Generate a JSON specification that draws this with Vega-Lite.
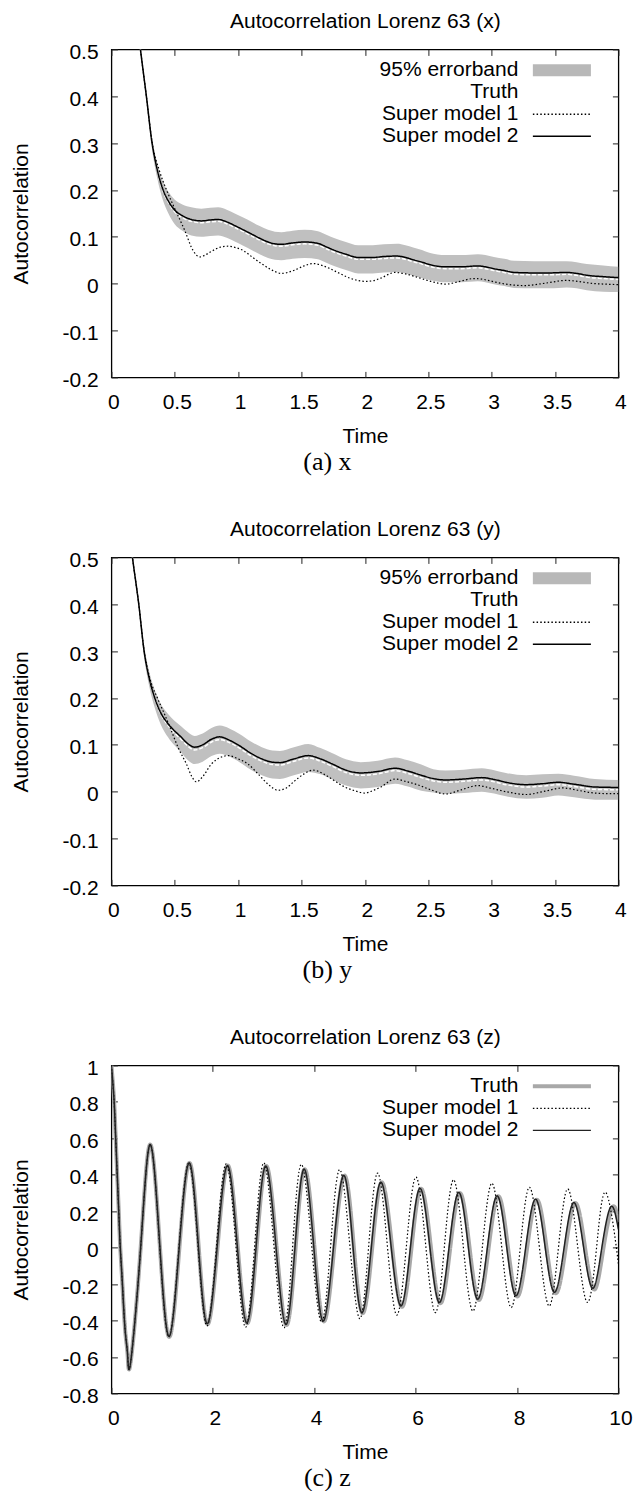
{
  "$schema": "https://vega.github.io/schema/vega-lite/v6.json",
  "padding": {"left": 9.4, "top": 9.4, "right": 5, "bottom": 0},
  "background": "white",
  "bounds": "flush",
  "spacing": 180,
  "config": {
    "view": {"stroke": "#000", "strokeWidth": 1.3},
    "font": "Liberation Sans",
    "axis": {"labelFont": "Liberation Sans", "labelFontSize": 21, "labelColor": "#000", "titleFont": "Liberation Sans", "titleFontSize": 21, "titleFontWeight": "normal", "titleColor": "#000", "tickSize": -6, "tickColor": "#222", "tickWidth": 1, "domain": false, "grid": false, "labelFlush": false, "labelOverlap": false, "labelBound": false},
    "legend": {"orient": "none", "legendX": 440, "legendY": 10.4, "labelAlign": "right", "labelOffset": -54, "labelFont": "Liberation Sans", "labelFontSize": 21, "labelColor": "#000", "labelLimit": 0, "symbolType": "M-6.45,0H6.45", "symbolSize": 81, "rowPadding": 0, "padding": 0}
  },
  "resolve": {"scale": {"color": "independent", "strokeDash": "independent"}, "legend": {"color": "independent", "strokeDash": "independent"}},
  "datasets": {
    "p1band": [
      {"t":0,"lo":1.0,"hi":1.0},{"t":0.1,"lo":0.797,"hi":0.803},{"t":0.18,"lo":0.605,"hi":0.615},{"t":0.229,"lo":0.493,"hi":0.507},{"t":0.276,"lo":0.389,"hi":0.409},{"t":0.321,"lo":0.286,"hi":0.312},{"t":0.36,"lo":0.227,"hi":0.259},{"t":0.408,"lo":0.177,"hi":0.217},{"t":0.45,"lo":0.15,"hi":0.196},{"t":0.5,"lo":0.127,"hi":0.179},{"t":0.56,"lo":0.113,"hi":0.169},{"t":0.631,"lo":0.103,"hi":0.163},{"t":0.71,"lo":0.1,"hi":0.16},{"t":0.78,"lo":0.102,"hi":0.162},{"t":0.842,"lo":0.103,"hi":0.163},{"t":0.91,"lo":0.098,"hi":0.158},{"t":0.973,"lo":0.09,"hi":0.15},{"t":1.04,"lo":0.081,"hi":0.141},{"t":1.105,"lo":0.072,"hi":0.132},{"t":1.17,"lo":0.063,"hi":0.123},{"t":1.236,"lo":0.055,"hi":0.115},{"t":1.29,"lo":0.051,"hi":0.111},{"t":1.341,"lo":0.05,"hi":0.11},{"t":1.43,"lo":0.053,"hi":0.113},{"t":1.525,"lo":0.055,"hi":0.115},{"t":1.63,"lo":0.052,"hi":0.112},{"t":1.7,"lo":0.044,"hi":0.104},{"t":1.762,"lo":0.037,"hi":0.097},{"t":1.85,"lo":0.029,"hi":0.089},{"t":1.946,"lo":0.022,"hi":0.082},{"t":2.062,"lo":0.022,"hi":0.082},{"t":2.15,"lo":0.024,"hi":0.084},{"t":2.253,"lo":0.025,"hi":0.085},{"t":2.32,"lo":0.022,"hi":0.082},{"t":2.381,"lo":0.017,"hi":0.077},{"t":2.45,"lo":0.012,"hi":0.072},{"t":2.508,"lo":0.008,"hi":0.066},{"t":2.636,"lo":0.003,"hi":0.061},{"t":2.763,"lo":0.003,"hi":0.061},{"t":2.891,"lo":0.005,"hi":0.063},{"t":2.95,"lo":0.003,"hi":0.061},{"t":3.018,"lo":-0.001,"hi":0.057},{"t":3.1,"lo":-0.005,"hi":0.053},{"t":3.177,"lo":-0.009,"hi":0.049},{"t":3.337,"lo":-0.01,"hi":0.048},{"t":3.46,"lo":-0.01,"hi":0.048},{"t":3.591,"lo":-0.008,"hi":0.048},{"t":3.67,"lo":-0.01,"hi":0.046},{"t":3.751,"lo":-0.014,"hi":0.042},{"t":3.88,"lo":-0.017,"hi":0.039},{"t":4.0,"lo":-0.018,"hi":0.036}
    ],
    "p1lines": [
      {"series":"Truth","t":0,"v":1.0},{"series":"Truth","t":0.1,"v":0.8},{"series":"Truth","t":0.18,"v":0.61},{"series":"Truth","t":0.229,"v":0.5},{"series":"Truth","t":0.276,"v":0.399},{"series":"Truth","t":0.321,"v":0.299},{"series":"Truth","t":0.36,"v":0.243},{"series":"Truth","t":0.408,"v":0.197},{"series":"Truth","t":0.45,"v":0.173},{"series":"Truth","t":0.5,"v":0.153},{"series":"Truth","t":0.56,"v":0.141},{"series":"Truth","t":0.631,"v":0.133},{"series":"Truth","t":0.71,"v":0.13},{"series":"Truth","t":0.78,"v":0.132},{"series":"Truth","t":0.842,"v":0.133},{"series":"Truth","t":0.91,"v":0.128},{"series":"Truth","t":0.973,"v":0.12},{"series":"Truth","t":1.04,"v":0.111},{"series":"Truth","t":1.105,"v":0.102},{"series":"Truth","t":1.17,"v":0.093},{"series":"Truth","t":1.236,"v":0.085},{"series":"Truth","t":1.29,"v":0.081},{"series":"Truth","t":1.341,"v":0.08},{"series":"Truth","t":1.43,"v":0.083},{"series":"Truth","t":1.525,"v":0.085},{"series":"Truth","t":1.63,"v":0.082},{"series":"Truth","t":1.7,"v":0.074},{"series":"Truth","t":1.762,"v":0.067},{"series":"Truth","t":1.85,"v":0.059},{"series":"Truth","t":1.946,"v":0.052},{"series":"Truth","t":2.062,"v":0.052},{"series":"Truth","t":2.15,"v":0.054},{"series":"Truth","t":2.253,"v":0.055},{"series":"Truth","t":2.32,"v":0.052},{"series":"Truth","t":2.381,"v":0.047},{"series":"Truth","t":2.45,"v":0.042},{"series":"Truth","t":2.508,"v":0.037},{"series":"Truth","t":2.636,"v":0.032},{"series":"Truth","t":2.763,"v":0.032},{"series":"Truth","t":2.891,"v":0.034},{"series":"Truth","t":2.95,"v":0.032},{"series":"Truth","t":3.018,"v":0.028},{"series":"Truth","t":3.1,"v":0.024},{"series":"Truth","t":3.177,"v":0.02},{"series":"Truth","t":3.337,"v":0.019},{"series":"Truth","t":3.46,"v":0.019},{"series":"Truth","t":3.591,"v":0.02},{"series":"Truth","t":3.67,"v":0.018},{"series":"Truth","t":3.751,"v":0.014},{"series":"Truth","t":3.88,"v":0.011},{"series":"Truth","t":4.0,"v":0.009},
      {"series":"Super model 1","t":0,"v":1.0},{"series":"Super model 1","t":0.1,"v":0.8},{"series":"Super model 1","t":0.18,"v":0.61},{"series":"Super model 1","t":0.229,"v":0.5},{"series":"Super model 1","t":0.276,"v":0.4},{"series":"Super model 1","t":0.321,"v":0.302},{"series":"Super model 1","t":0.38,"v":0.24},{"series":"Super model 1","t":0.435,"v":0.2},{"series":"Super model 1","t":0.5,"v":0.16},{"series":"Super model 1","t":0.578,"v":0.114},{"series":"Super model 1","t":0.644,"v":0.071},{"series":"Super model 1","t":0.697,"v":0.057},{"series":"Super model 1","t":0.745,"v":0.062},{"series":"Super model 1","t":0.789,"v":0.069},{"series":"Super model 1","t":0.86,"v":0.078},{"series":"Super model 1","t":0.921,"v":0.08},{"series":"Super model 1","t":0.98,"v":0.077},{"series":"Super model 1","t":1.039,"v":0.071},{"series":"Super model 1","t":1.11,"v":0.057},{"series":"Super model 1","t":1.183,"v":0.043},{"series":"Super model 1","t":1.26,"v":0.03},{"series":"Super model 1","t":1.341,"v":0.022},{"series":"Super model 1","t":1.446,"v":0.029},{"series":"Super model 1","t":1.52,"v":0.038},{"series":"Super model 1","t":1.591,"v":0.043},{"series":"Super model 1","t":1.65,"v":0.04},{"series":"Super model 1","t":1.709,"v":0.034},{"series":"Super model 1","t":1.8,"v":0.022},{"series":"Super model 1","t":1.88,"v":0.012},{"series":"Super model 1","t":1.946,"v":0.007},{"series":"Super model 1","t":2.0,"v":0.005},{"series":"Super model 1","t":2.06,"v":0.006},{"series":"Super model 1","t":2.126,"v":0.012},{"series":"Super model 1","t":2.237,"v":0.024},{"series":"Super model 1","t":2.32,"v":0.021},{"series":"Super model 1","t":2.41,"v":0.014},{"series":"Super model 1","t":2.52,"v":0.005},{"series":"Super model 1","t":2.636,"v":-0.001},{"series":"Super model 1","t":2.75,"v":0.005},{"series":"Super model 1","t":2.86,"v":0.011},{"series":"Super model 1","t":2.94,"v":0.009},{"series":"Super model 1","t":3.02,"v":0.004},{"series":"Super model 1","t":3.14,"v":-0.002},{"series":"Super model 1","t":3.26,"v":-0.004},{"series":"Super model 1","t":3.42,"v":0.001},{"series":"Super model 1","t":3.59,"v":0.007},{"series":"Super model 1","t":3.68,"v":0.005},{"series":"Super model 1","t":3.78,"v":0.001},{"series":"Super model 1","t":3.9,"v":-0.001},{"series":"Super model 1","t":4.0,"v":-0.002},
      {"series":"Super model 2","t":0,"v":1.0},{"series":"Super model 2","t":0.1,"v":0.8},{"series":"Super model 2","t":0.18,"v":0.61},{"series":"Super model 2","t":0.229,"v":0.5},{"series":"Super model 2","t":0.276,"v":0.4},{"series":"Super model 2","t":0.321,"v":0.3},{"series":"Super model 2","t":0.36,"v":0.245},{"series":"Super model 2","t":0.408,"v":0.2},{"series":"Super model 2","t":0.45,"v":0.176},{"series":"Super model 2","t":0.5,"v":0.157},{"series":"Super model 2","t":0.56,"v":0.145},{"series":"Super model 2","t":0.631,"v":0.137},{"series":"Super model 2","t":0.71,"v":0.134},{"series":"Super model 2","t":0.78,"v":0.136},{"series":"Super model 2","t":0.842,"v":0.137},{"series":"Super model 2","t":0.91,"v":0.132},{"series":"Super model 2","t":0.973,"v":0.124},{"series":"Super model 2","t":1.04,"v":0.115},{"series":"Super model 2","t":1.105,"v":0.106},{"series":"Super model 2","t":1.17,"v":0.097},{"series":"Super model 2","t":1.236,"v":0.089},{"series":"Super model 2","t":1.29,"v":0.085},{"series":"Super model 2","t":1.341,"v":0.084},{"series":"Super model 2","t":1.43,"v":0.087},{"series":"Super model 2","t":1.525,"v":0.089},{"series":"Super model 2","t":1.63,"v":0.086},{"series":"Super model 2","t":1.7,"v":0.078},{"series":"Super model 2","t":1.762,"v":0.071},{"series":"Super model 2","t":1.85,"v":0.063},{"series":"Super model 2","t":1.946,"v":0.056},{"series":"Super model 2","t":2.062,"v":0.056},{"series":"Super model 2","t":2.15,"v":0.058},{"series":"Super model 2","t":2.253,"v":0.059},{"series":"Super model 2","t":2.32,"v":0.056},{"series":"Super model 2","t":2.381,"v":0.051},{"series":"Super model 2","t":2.45,"v":0.046},{"series":"Super model 2","t":2.508,"v":0.041},{"series":"Super model 2","t":2.636,"v":0.036},{"series":"Super model 2","t":2.763,"v":0.036},{"series":"Super model 2","t":2.891,"v":0.038},{"series":"Super model 2","t":2.95,"v":0.036},{"series":"Super model 2","t":3.018,"v":0.032},{"series":"Super model 2","t":3.1,"v":0.028},{"series":"Super model 2","t":3.177,"v":0.024},{"series":"Super model 2","t":3.337,"v":0.023},{"series":"Super model 2","t":3.46,"v":0.023},{"series":"Super model 2","t":3.591,"v":0.024},{"series":"Super model 2","t":3.67,"v":0.022},{"series":"Super model 2","t":3.751,"v":0.018},{"series":"Super model 2","t":3.88,"v":0.015},{"series":"Super model 2","t":4.0,"v":0.013}
    ],
    "p2band": [
      {"t":0,"lo":1.0,"hi":1.0},{"t":0.08,"lo":0.717,"hi":0.723},{"t":0.13,"lo":0.575,"hi":0.585},{"t":0.166,"lo":0.493,"hi":0.507},{"t":0.216,"lo":0.39,"hi":0.41},{"t":0.258,"lo":0.287,"hi":0.313},{"t":0.3,"lo":0.223,"hi":0.255},{"t":0.342,"lo":0.179,"hi":0.217},{"t":0.39,"lo":0.143,"hi":0.187},{"t":0.447,"lo":0.116,"hi":0.166},{"t":0.552,"lo":0.083,"hi":0.139},{"t":0.6,"lo":0.068,"hi":0.128},{"t":0.657,"lo":0.059,"hi":0.119},{"t":0.72,"lo":0.064,"hi":0.124},{"t":0.79,"lo":0.076,"hi":0.136},{"t":0.855,"lo":0.081,"hi":0.141},{"t":0.93,"lo":0.075,"hi":0.135},{"t":1.011,"lo":0.063,"hi":0.123},{"t":1.1,"lo":0.047,"hi":0.107},{"t":1.187,"lo":0.035,"hi":0.095},{"t":1.27,"lo":0.028,"hi":0.088},{"t":1.33,"lo":0.027,"hi":0.087},{"t":1.44,"lo":0.035,"hi":0.095},{"t":1.553,"lo":0.042,"hi":0.102},{"t":1.65,"lo":0.037,"hi":0.093},{"t":1.744,"lo":0.026,"hi":0.082},{"t":1.85,"lo":0.013,"hi":0.069},{"t":1.967,"lo":0.007,"hi":0.063},{"t":2.1,"lo":0.01,"hi":0.066},{"t":2.238,"lo":0.017,"hi":0.073},{"t":2.34,"lo":0.011,"hi":0.067},{"t":2.445,"lo":0.002,"hi":0.058},{"t":2.54,"lo":-0.002,"hi":0.048},{"t":2.636,"lo":-0.005,"hi":0.045},{"t":2.78,"lo":-0.003,"hi":0.047},{"t":2.922,"lo":0.0,"hi":0.05},{"t":3.02,"lo":-0.004,"hi":0.046},{"t":3.113,"lo":-0.01,"hi":0.04},{"t":3.273,"lo":-0.015,"hi":0.035},{"t":3.4,"lo":-0.013,"hi":0.037},{"t":3.527,"lo":-0.008,"hi":0.038},{"t":3.65,"lo":-0.012,"hi":0.034},{"t":3.815,"lo":-0.017,"hi":0.027},{"t":4.0,"lo":-0.017,"hi":0.025}
    ],
    "p2lines": [
      {"series":"Truth","t":0,"v":1.0},{"series":"Truth","t":0.08,"v":0.72},{"series":"Truth","t":0.13,"v":0.58},{"series":"Truth","t":0.166,"v":0.5},{"series":"Truth","t":0.216,"v":0.4},{"series":"Truth","t":0.258,"v":0.3},{"series":"Truth","t":0.3,"v":0.239},{"series":"Truth","t":0.342,"v":0.198},{"series":"Truth","t":0.39,"v":0.165},{"series":"Truth","t":0.447,"v":0.141},{"series":"Truth","t":0.552,"v":0.111},{"series":"Truth","t":0.6,"v":0.098},{"series":"Truth","t":0.657,"v":0.089},{"series":"Truth","t":0.72,"v":0.094},{"series":"Truth","t":0.79,"v":0.106},{"series":"Truth","t":0.855,"v":0.111},{"series":"Truth","t":0.93,"v":0.105},{"series":"Truth","t":1.011,"v":0.093},{"series":"Truth","t":1.1,"v":0.077},{"series":"Truth","t":1.187,"v":0.065},{"series":"Truth","t":1.27,"v":0.058},{"series":"Truth","t":1.33,"v":0.057},{"series":"Truth","t":1.44,"v":0.065},{"series":"Truth","t":1.553,"v":0.072},{"series":"Truth","t":1.65,"v":0.065},{"series":"Truth","t":1.744,"v":0.054},{"series":"Truth","t":1.85,"v":0.041},{"series":"Truth","t":1.967,"v":0.035},{"series":"Truth","t":2.1,"v":0.038},{"series":"Truth","t":2.238,"v":0.045},{"series":"Truth","t":2.34,"v":0.039},{"series":"Truth","t":2.445,"v":0.03},{"series":"Truth","t":2.54,"v":0.023},{"series":"Truth","t":2.636,"v":0.02},{"series":"Truth","t":2.78,"v":0.022},{"series":"Truth","t":2.922,"v":0.025},{"series":"Truth","t":3.02,"v":0.021},{"series":"Truth","t":3.113,"v":0.015},{"series":"Truth","t":3.273,"v":0.01},{"series":"Truth","t":3.4,"v":0.012},{"series":"Truth","t":3.527,"v":0.015},{"series":"Truth","t":3.65,"v":0.011},{"series":"Truth","t":3.815,"v":0.005},{"series":"Truth","t":4.0,"v":0.004},
      {"series":"Super model 1","t":0,"v":1.0},{"series":"Super model 1","t":0.08,"v":0.72},{"series":"Super model 1","t":0.13,"v":0.58},{"series":"Super model 1","t":0.166,"v":0.5},{"series":"Super model 1","t":0.216,"v":0.4},{"series":"Super model 1","t":0.258,"v":0.302},{"series":"Super model 1","t":0.3,"v":0.245},{"series":"Super model 1","t":0.363,"v":0.2},{"series":"Super model 1","t":0.42,"v":0.165},{"series":"Super model 1","t":0.473,"v":0.13},{"series":"Super model 1","t":0.53,"v":0.092},{"series":"Super model 1","t":0.592,"v":0.059},{"series":"Super model 1","t":0.635,"v":0.032},{"series":"Super model 1","t":0.671,"v":0.021},{"series":"Super model 1","t":0.72,"v":0.032},{"series":"Super model 1","t":0.789,"v":0.059},{"series":"Super model 1","t":0.86,"v":0.073},{"series":"Super model 1","t":0.92,"v":0.077},{"series":"Super model 1","t":1.0,"v":0.07},{"series":"Super model 1","t":1.078,"v":0.059},{"series":"Super model 1","t":1.16,"v":0.037},{"series":"Super model 1","t":1.236,"v":0.016},{"series":"Super model 1","t":1.315,"v":0.003},{"series":"Super model 1","t":1.38,"v":0.008},{"series":"Super model 1","t":1.446,"v":0.023},{"series":"Super model 1","t":1.52,"v":0.038},{"series":"Super model 1","t":1.591,"v":0.046},{"series":"Super model 1","t":1.68,"v":0.037},{"series":"Super model 1","t":1.762,"v":0.023},{"series":"Super model 1","t":1.84,"v":0.01},{"series":"Super model 1","t":1.92,"v":0.002},{"series":"Super model 1","t":1.998,"v":-0.003},{"series":"Super model 1","t":2.06,"v":0.002},{"series":"Super model 1","t":2.126,"v":0.01},{"series":"Super model 1","t":2.238,"v":0.027},{"series":"Super model 1","t":2.32,"v":0.022},{"series":"Super model 1","t":2.413,"v":0.015},{"series":"Super model 1","t":2.52,"v":0.004},{"series":"Super model 1","t":2.636,"v":-0.005},{"series":"Super model 1","t":2.76,"v":0.004},{"series":"Super model 1","t":2.891,"v":0.013},{"series":"Super model 1","t":3.0,"v":0.007},{"series":"Super model 1","t":3.113,"v":0.0},{"series":"Super model 1","t":3.273,"v":-0.006},{"series":"Super model 1","t":3.42,"v":0.001},{"series":"Super model 1","t":3.56,"v":0.008},{"series":"Super model 1","t":3.68,"v":0.003},{"series":"Super model 1","t":3.782,"v":-0.002},{"series":"Super model 1","t":3.9,"v":-0.004},{"series":"Super model 1","t":4.0,"v":-0.004},
      {"series":"Super model 2","t":0,"v":1.0},{"series":"Super model 2","t":0.08,"v":0.72},{"series":"Super model 2","t":0.13,"v":0.58},{"series":"Super model 2","t":0.166,"v":0.5},{"series":"Super model 2","t":0.216,"v":0.4},{"series":"Super model 2","t":0.258,"v":0.3},{"series":"Super model 2","t":0.3,"v":0.24},{"series":"Super model 2","t":0.342,"v":0.2},{"series":"Super model 2","t":0.39,"v":0.168},{"series":"Super model 2","t":0.447,"v":0.145},{"series":"Super model 2","t":0.552,"v":0.116},{"series":"Super model 2","t":0.6,"v":0.103},{"series":"Super model 2","t":0.657,"v":0.095},{"series":"Super model 2","t":0.72,"v":0.1},{"series":"Super model 2","t":0.79,"v":0.112},{"series":"Super model 2","t":0.855,"v":0.117},{"series":"Super model 2","t":0.93,"v":0.11},{"series":"Super model 2","t":1.011,"v":0.098},{"series":"Super model 2","t":1.1,"v":0.082},{"series":"Super model 2","t":1.187,"v":0.07},{"series":"Super model 2","t":1.27,"v":0.063},{"series":"Super model 2","t":1.33,"v":0.062},{"series":"Super model 2","t":1.44,"v":0.07},{"series":"Super model 2","t":1.553,"v":0.077},{"series":"Super model 2","t":1.65,"v":0.07},{"series":"Super model 2","t":1.744,"v":0.059},{"series":"Super model 2","t":1.85,"v":0.046},{"series":"Super model 2","t":1.967,"v":0.04},{"series":"Super model 2","t":2.1,"v":0.043},{"series":"Super model 2","t":2.238,"v":0.05},{"series":"Super model 2","t":2.34,"v":0.044},{"series":"Super model 2","t":2.445,"v":0.035},{"series":"Super model 2","t":2.54,"v":0.028},{"series":"Super model 2","t":2.636,"v":0.025},{"series":"Super model 2","t":2.78,"v":0.027},{"series":"Super model 2","t":2.922,"v":0.03},{"series":"Super model 2","t":3.02,"v":0.026},{"series":"Super model 2","t":3.113,"v":0.02},{"series":"Super model 2","t":3.273,"v":0.015},{"series":"Super model 2","t":3.4,"v":0.017},{"series":"Super model 2","t":3.527,"v":0.02},{"series":"Super model 2","t":3.65,"v":0.016},{"series":"Super model 2","t":3.815,"v":0.01},{"series":"Super model 2","t":4.0,"v":0.009}
    ],
    "p3lines": [
      {"series":"Truth","t":0,"v":1.0},{"series":"Truth","t":0.05,"v":0.82},{"series":"Truth","t":0.085,"v":0.6},{"series":"Truth","t":0.145,"v":0.2},{"series":"Truth","t":0.175,"v":0.0},{"series":"Truth","t":0.217,"v":-0.2},{"series":"Truth","t":0.27,"v":-0.45},{"series":"Truth","t":0.32,"v":-0.59},{"series":"Truth","t":0.378,"v":-0.632},{"series":"Truth","t":0.569,"v":-0.034},{"series":"Truth","t":0.76,"v":0.565},{"series":"Truth","t":0.949,"v":0.038},{"series":"Truth","t":1.138,"v":-0.49},{"series":"Truth","t":1.338,"v":-0.012},{"series":"Truth","t":1.537,"v":0.465},{"series":"Truth","t":1.717,"v":0.022},{"series":"Truth","t":1.897,"v":-0.42},{"series":"Truth","t":2.097,"v":0.015},{"series":"Truth","t":2.296,"v":0.45},{"series":"Truth","t":2.488,"v":0.017},{"series":"Truth","t":2.68,"v":-0.415},{"series":"Truth","t":2.868,"v":0.016},{"series":"Truth","t":3.055,"v":0.448},{"series":"Truth","t":3.255,"v":0.012},{"series":"Truth","t":3.454,"v":-0.425},{"series":"Truth","t":3.634,"v":0.003},{"series":"Truth","t":3.813,"v":0.43},{"series":"Truth","t":4.002,"v":0.013},{"series":"Truth","t":4.19,"v":-0.405},{"series":"Truth","t":4.394,"v":-0.005},{"series":"Truth","t":4.597,"v":0.395},{"series":"Truth","t":4.777,"v":0.018},{"series":"Truth","t":4.956,"v":-0.36},{"series":"Truth","t":5.144,"v":-0.001},{"series":"Truth","t":5.332,"v":0.358},{"series":"Truth","t":5.531,"v":0.017},{"series":"Truth","t":5.73,"v":-0.325},{"series":"Truth","t":5.919,"v":-0.001},{"series":"Truth","t":6.107,"v":0.323},{"series":"Truth","t":6.299,"v":0.009},{"series":"Truth","t":6.49,"v":-0.305},{"series":"Truth","t":6.682,"v":-0.003},{"series":"Truth","t":6.873,"v":0.3},{"series":"Truth","t":7.061,"v":0.007},{"series":"Truth","t":7.248,"v":-0.287},{"series":"Truth","t":7.44,"v":-0.003},{"series":"Truth","t":7.632,"v":0.282},{"series":"Truth","t":7.819,"v":0.007},{"series":"Truth","t":8.006,"v":-0.268},{"series":"Truth","t":8.199,"v":-0.003},{"series":"Truth","t":8.391,"v":0.263},{"series":"Truth","t":8.579,"v":0.007},{"series":"Truth","t":8.767,"v":-0.25},{"series":"Truth","t":8.959,"v":-0.003},{"series":"Truth","t":9.15,"v":0.245},{"series":"Truth","t":9.338,"v":0.008},{"series":"Truth","t":9.525,"v":-0.23},{"series":"Truth","t":9.704,"v":-0.004},{"series":"Truth","t":9.883,"v":0.222},{"series":"Truth","t":10.0,"v":0.14},
      {"series":"Super model 1","t":0,"v":1.0},{"series":"Super model 1","t":0.05,"v":0.82},{"series":"Super model 1","t":0.085,"v":0.6},{"series":"Super model 1","t":0.145,"v":0.2},{"series":"Super model 1","t":0.175,"v":0.0},{"series":"Super model 1","t":0.217,"v":-0.2},{"series":"Super model 1","t":0.27,"v":-0.45},{"series":"Super model 1","t":0.32,"v":-0.59},{"series":"Super model 1","t":0.378,"v":-0.632},{"series":"Super model 1","t":0.569,"v":-0.034},{"series":"Super model 1","t":0.76,"v":0.565},{"series":"Super model 1","t":0.945,"v":0.038},{"series":"Super model 1","t":1.13,"v":-0.49},{"series":"Super model 1","t":1.328,"v":-0.013},{"series":"Super model 1","t":1.525,"v":0.465},{"series":"Super model 1","t":1.705,"v":0.018},{"series":"Super model 1","t":1.885,"v":-0.43},{"series":"Super model 1","t":2.075,"v":0.015},{"series":"Super model 1","t":2.265,"v":0.46},{"series":"Super model 1","t":2.456,"v":0.012},{"series":"Super model 1","t":2.647,"v":-0.437},{"series":"Super model 1","t":2.827,"v":0.014},{"series":"Super model 1","t":3.006,"v":0.465},{"series":"Super model 1","t":3.205,"v":0.013},{"series":"Super model 1","t":3.404,"v":-0.44},{"series":"Super model 1","t":3.575,"v":0.009},{"series":"Super model 1","t":3.746,"v":0.457},{"series":"Super model 1","t":3.946,"v":0.024},{"series":"Super model 1","t":4.145,"v":-0.409},{"series":"Super model 1","t":4.324,"v":0.01},{"series":"Super model 1","t":4.502,"v":0.428},{"series":"Super model 1","t":4.701,"v":0.019},{"series":"Super model 1","t":4.9,"v":-0.39},{"series":"Super model 1","t":5.075,"v":0.01},{"series":"Super model 1","t":5.25,"v":0.409},{"series":"Super model 1","t":5.44,"v":0.02},{"series":"Super model 1","t":5.63,"v":-0.37},{"series":"Super model 1","t":5.819,"v":0.009},{"series":"Super model 1","t":6.007,"v":0.387},{"series":"Super model 1","t":6.199,"v":0.015},{"series":"Super model 1","t":6.39,"v":-0.357},{"series":"Super model 1","t":6.569,"v":0.008},{"series":"Super model 1","t":6.748,"v":0.372},{"series":"Super model 1","t":6.939,"v":0.012},{"series":"Super model 1","t":7.13,"v":-0.348},{"series":"Super model 1","t":7.317,"v":0.003},{"series":"Super model 1","t":7.504,"v":0.353},{"series":"Super model 1","t":7.695,"v":0.012},{"series":"Super model 1","t":7.885,"v":-0.329},{"series":"Super model 1","t":8.065,"v":0.001},{"series":"Super model 1","t":8.245,"v":0.331},{"series":"Super model 1","t":8.44,"v":0.006},{"series":"Super model 1","t":8.635,"v":-0.32},{"series":"Super model 1","t":8.818,"v":0.001},{"series":"Super model 1","t":9.0,"v":0.322},{"series":"Super model 1","t":9.195,"v":0.011},{"series":"Super model 1","t":9.39,"v":-0.301},{"series":"Super model 1","t":9.57,"v":0.001},{"series":"Super model 1","t":9.749,"v":0.303},{"series":"Super model 1","t":9.96,"v":0.0},{"series":"Super model 1","t":10.0,"v":-0.097},
      {"series":"Super model 2","t":0,"v":1.0},{"series":"Super model 2","t":0.05,"v":0.82},{"series":"Super model 2","t":0.085,"v":0.6},{"series":"Super model 2","t":0.145,"v":0.2},{"series":"Super model 2","t":0.175,"v":0.0},{"series":"Super model 2","t":0.217,"v":-0.2},{"series":"Super model 2","t":0.27,"v":-0.45},{"series":"Super model 2","t":0.32,"v":-0.59},{"series":"Super model 2","t":0.378,"v":-0.632},{"series":"Super model 2","t":0.569,"v":-0.034},{"series":"Super model 2","t":0.76,"v":0.565},{"series":"Super model 2","t":0.948,"v":0.039},{"series":"Super model 2","t":1.135,"v":-0.487},{"series":"Super model 2","t":1.334,"v":-0.011},{"series":"Super model 2","t":1.533,"v":0.465},{"series":"Super model 2","t":1.712,"v":0.024},{"series":"Super model 2","t":1.891,"v":-0.418},{"series":"Super model 2","t":2.09,"v":0.016},{"series":"Super model 2","t":2.289,"v":0.45},{"series":"Super model 2","t":2.48,"v":0.019},{"series":"Super model 2","t":2.671,"v":-0.413},{"series":"Super model 2","t":2.858,"v":0.018},{"series":"Super model 2","t":3.045,"v":0.448},{"series":"Super model 2","t":3.244,"v":0.013},{"series":"Super model 2","t":3.443,"v":-0.422},{"series":"Super model 2","t":3.622,"v":0.005},{"series":"Super model 2","t":3.801,"v":0.431},{"series":"Super model 2","t":3.989,"v":0.014},{"series":"Super model 2","t":4.176,"v":-0.403},{"series":"Super model 2","t":4.379,"v":-0.004},{"series":"Super model 2","t":4.582,"v":0.396},{"series":"Super model 2","t":4.761,"v":0.02},{"series":"Super model 2","t":4.94,"v":-0.357},{"series":"Super model 2","t":5.127,"v":0.001},{"series":"Super model 2","t":5.314,"v":0.359},{"series":"Super model 2","t":5.512,"v":0.02},{"series":"Super model 2","t":5.71,"v":-0.32},{"series":"Super model 2","t":5.899,"v":0.003},{"series":"Super model 2","t":6.087,"v":0.325},{"series":"Super model 2","t":6.278,"v":0.012},{"series":"Super model 2","t":6.469,"v":-0.301},{"series":"Super model 2","t":6.66,"v":0.001},{"series":"Super model 2","t":6.851,"v":0.303},{"series":"Super model 2","t":7.038,"v":0.01},{"series":"Super model 2","t":7.225,"v":-0.283},{"series":"Super model 2","t":7.416,"v":0.0},{"series":"Super model 2","t":7.607,"v":0.284},{"series":"Super model 2","t":7.794,"v":0.01},{"series":"Super model 2","t":7.98,"v":-0.264},{"series":"Super model 2","t":8.172,"v":0.001},{"series":"Super model 2","t":8.364,"v":0.266},{"series":"Super model 2","t":8.552,"v":0.01},{"series":"Super model 2","t":8.739,"v":-0.245},{"series":"Super model 2","t":8.93,"v":0.001},{"series":"Super model 2","t":9.121,"v":0.247},{"series":"Super model 2","t":9.308,"v":0.012},{"series":"Super model 2","t":9.495,"v":-0.223},{"series":"Super model 2","t":9.674,"v":0.001},{"series":"Super model 2","t":9.853,"v":0.225},{"series":"Super model 2","t":10.0,"v":0.1}
    ]
  },
  "vconcat": [
    {
      "width": 507, "height": 328,
      "title": {"text": "(a) x", "orient": "bottom", "anchor": "middle", "font": "Liberation Serif", "fontSize": 26, "fontWeight": "normal", "color": "#000", "offset": 2.5, "dx": -37.5},
      "resolve": {"axis": {"x": "independent", "y": "independent"}},
      "layer": [
        {
          "data": {"name": "p1band"},
          "mark": {"type": "area", "clip": true, "color": "#c0c0c0", "interpolate": "monotone"},
          "encoding": {
            "x": {"field": "t", "type": "quantitative", "scale": {"domain": [0, 4], "nice": false, "zero": false}, "axis": {"orient": "bottom", "title": "Time", "values": [0, 0.5, 1, 1.5, 2, 2.5, 3, 3.5, 4], "format": ".1~f", "labelPadding": 20.4, "titlePadding": 12.8, "labelOffset": 2}},
            "y": {"field": "lo", "type": "quantitative", "scale": {"domain": [-0.2, 0.5], "nice": false, "zero": false}, "axis": {"orient": "left", "title": "Autocorrelation", "values": [-0.2, -0.1, 0, 0.1, 0.2, 0.3, 0.4, 0.5], "format": ".1~f", "labelExpr": "replace(datum.label, '\u2212', '-')", "labelPadding": 19.3, "titlePadding": 30, "labelOffset": 3}},
            "y2": {"field": "hi"}
          }
        },
        {
          "data": {"name": "p1lines"},
          "transform": [{"filter": "datum.series === 'Truth'"}],
          "mark": {"type": "line", "clip": true, "interpolate": "monotone", "strokeWidth": 1.5},
          "encoding": {
            "x": {"field": "t", "type": "quantitative", "scale": {"domain": [0, 4], "nice": false, "zero": false}, "axis": null},
            "y": {"field": "v", "type": "quantitative", "scale": {"domain": [-0.2, 0.5], "nice": false, "zero": false}, "axis": null},
            "color": {"field": "series", "type": "nominal", "scale": {"domain": ["95% errorband", "Truth", "Super model 1", "Super model 2"], "range": ["#b8b8b8", "#ffffff", "#000000", "#000000"]}, "legend": {"title": null, "symbolType": {"expr": "datum.value === '95% errorband' ? 'M-6.45,-1.33H6.45V1.33H-6.45Z' : 'M-6.45,0H6.45'"}, "symbolFillColor": {"expr": "datum.value === '95% errorband' ? '#b8b8b8' : 'transparent'"}, "symbolStrokeWidth": {"expr": "datum.value === '95% errorband' ? 0 : 1.5"}}},
            "strokeDash": {"field": "series", "type": "nominal", "scale": {"domain": ["95% errorband", "Truth", "Super model 1", "Super model 2"], "range": [[1, 0], [4, 2], [1.5, 2.2], [1, 0]]}, "legend": {"title": null}}
          }
        },
        {
          "data": {"name": "p1lines"},
          "transform": [{"filter": "datum.series === 'Super model 1'"}],
          "mark": {"type": "line", "clip": true, "interpolate": "monotone", "strokeWidth": 1.2},
          "encoding": {
            "x": {"field": "t", "type": "quantitative", "scale": {"domain": [0, 4], "nice": false, "zero": false}, "axis": null},
            "y": {"field": "v", "type": "quantitative", "scale": {"domain": [-0.2, 0.5], "nice": false, "zero": false}, "axis": null},
            "color": {"field": "series", "type": "nominal", "scale": {"domain": ["95% errorband", "Truth", "Super model 1", "Super model 2"], "range": ["#b8b8b8", "#ffffff", "#000000", "#000000"]}, "legend": {"title": null, "symbolType": {"expr": "datum.value === '95% errorband' ? 'M-6.45,-1.33H6.45V1.33H-6.45Z' : 'M-6.45,0H6.45'"}, "symbolFillColor": {"expr": "datum.value === '95% errorband' ? '#b8b8b8' : 'transparent'"}, "symbolStrokeWidth": {"expr": "datum.value === '95% errorband' ? 0 : 1.5"}}},
            "strokeDash": {"field": "series", "type": "nominal", "scale": {"domain": ["95% errorband", "Truth", "Super model 1", "Super model 2"], "range": [[1, 0], [4, 2], [1.5, 2.2], [1, 0]]}, "legend": {"title": null}}
          }
        },
        {
          "data": {"name": "p1lines"},
          "transform": [{"filter": "datum.series === 'Super model 2'"}],
          "mark": {"type": "line", "clip": true, "interpolate": "monotone", "strokeWidth": 1.5},
          "encoding": {
            "x": {"field": "t", "type": "quantitative", "scale": {"domain": [0, 4], "nice": false, "zero": false}, "axis": {"orient": "top", "title": "Autocorrelation Lorenz 63 (x)", "values": [0, 0.5, 1, 1.5, 2, 2.5, 3, 3.5, 4], "labels": false, "titlePadding": 17}},
            "y": {"field": "v", "type": "quantitative", "scale": {"domain": [-0.2, 0.5], "nice": false, "zero": false}, "axis": {"orient": "right", "title": null, "values": [-0.2, -0.1, 0, 0.1, 0.2, 0.3, 0.4, 0.5], "labels": false}},
            "color": {"field": "series", "type": "nominal", "scale": {"domain": ["95% errorband", "Truth", "Super model 1", "Super model 2"], "range": ["#b8b8b8", "#ffffff", "#000000", "#000000"]}, "legend": {"title": null, "symbolType": {"expr": "datum.value === '95% errorband' ? 'M-6.45,-1.33H6.45V1.33H-6.45Z' : 'M-6.45,0H6.45'"}, "symbolFillColor": {"expr": "datum.value === '95% errorband' ? '#b8b8b8' : 'transparent'"}, "symbolStrokeWidth": {"expr": "datum.value === '95% errorband' ? 0 : 1.5"}}},
            "strokeDash": {"field": "series", "type": "nominal", "scale": {"domain": ["95% errorband", "Truth", "Super model 1", "Super model 2"], "range": [[1, 0], [4, 2], [1.5, 2.2], [1, 0]]}, "legend": {"title": null}}
          }
        }
      ]
    },
    {
      "width": 507, "height": 328,
      "title": {"text": "(b) y", "orient": "bottom", "anchor": "middle", "font": "Liberation Serif", "fontSize": 26, "fontWeight": "normal", "color": "#000", "offset": 2.5, "dx": -37.5},
      "resolve": {"axis": {"x": "independent", "y": "independent"}},
      "layer": [
        {
          "data": {"name": "p2band"},
          "mark": {"type": "area", "clip": true, "color": "#c0c0c0", "interpolate": "monotone"},
          "encoding": {
            "x": {"field": "t", "type": "quantitative", "scale": {"domain": [0, 4], "nice": false, "zero": false}, "axis": {"orient": "bottom", "title": "Time", "values": [0, 0.5, 1, 1.5, 2, 2.5, 3, 3.5, 4], "format": ".1~f", "labelPadding": 20.4, "titlePadding": 12.8, "labelOffset": 2}},
            "y": {"field": "lo", "type": "quantitative", "scale": {"domain": [-0.2, 0.5], "nice": false, "zero": false}, "axis": {"orient": "left", "title": "Autocorrelation", "values": [-0.2, -0.1, 0, 0.1, 0.2, 0.3, 0.4, 0.5], "format": ".1~f", "labelExpr": "replace(datum.label, '\u2212', '-')", "labelPadding": 19.3, "titlePadding": 30, "labelOffset": 3}},
            "y2": {"field": "hi"}
          }
        },
        {
          "data": {"name": "p2lines"},
          "transform": [{"filter": "datum.series === 'Truth'"}],
          "mark": {"type": "line", "clip": true, "interpolate": "monotone", "strokeWidth": 1.5},
          "encoding": {
            "x": {"field": "t", "type": "quantitative", "scale": {"domain": [0, 4], "nice": false, "zero": false}, "axis": null},
            "y": {"field": "v", "type": "quantitative", "scale": {"domain": [-0.2, 0.5], "nice": false, "zero": false}, "axis": null},
            "color": {"field": "series", "type": "nominal", "scale": {"domain": ["95% errorband", "Truth", "Super model 1", "Super model 2"], "range": ["#b8b8b8", "#ffffff", "#000000", "#000000"]}, "legend": {"title": null, "symbolType": {"expr": "datum.value === '95% errorband' ? 'M-6.45,-1.33H6.45V1.33H-6.45Z' : 'M-6.45,0H6.45'"}, "symbolFillColor": {"expr": "datum.value === '95% errorband' ? '#b8b8b8' : 'transparent'"}, "symbolStrokeWidth": {"expr": "datum.value === '95% errorband' ? 0 : 1.5"}}},
            "strokeDash": {"field": "series", "type": "nominal", "scale": {"domain": ["95% errorband", "Truth", "Super model 1", "Super model 2"], "range": [[1, 0], [4, 2], [1.5, 2.2], [1, 0]]}, "legend": {"title": null}}
          }
        },
        {
          "data": {"name": "p2lines"},
          "transform": [{"filter": "datum.series === 'Super model 1'"}],
          "mark": {"type": "line", "clip": true, "interpolate": "monotone", "strokeWidth": 1.2},
          "encoding": {
            "x": {"field": "t", "type": "quantitative", "scale": {"domain": [0, 4], "nice": false, "zero": false}, "axis": null},
            "y": {"field": "v", "type": "quantitative", "scale": {"domain": [-0.2, 0.5], "nice": false, "zero": false}, "axis": null},
            "color": {"field": "series", "type": "nominal", "scale": {"domain": ["95% errorband", "Truth", "Super model 1", "Super model 2"], "range": ["#b8b8b8", "#ffffff", "#000000", "#000000"]}, "legend": {"title": null, "symbolType": {"expr": "datum.value === '95% errorband' ? 'M-6.45,-1.33H6.45V1.33H-6.45Z' : 'M-6.45,0H6.45'"}, "symbolFillColor": {"expr": "datum.value === '95% errorband' ? '#b8b8b8' : 'transparent'"}, "symbolStrokeWidth": {"expr": "datum.value === '95% errorband' ? 0 : 1.5"}}},
            "strokeDash": {"field": "series", "type": "nominal", "scale": {"domain": ["95% errorband", "Truth", "Super model 1", "Super model 2"], "range": [[1, 0], [4, 2], [1.5, 2.2], [1, 0]]}, "legend": {"title": null}}
          }
        },
        {
          "data": {"name": "p2lines"},
          "transform": [{"filter": "datum.series === 'Super model 2'"}],
          "mark": {"type": "line", "clip": true, "interpolate": "monotone", "strokeWidth": 1.5},
          "encoding": {
            "x": {"field": "t", "type": "quantitative", "scale": {"domain": [0, 4], "nice": false, "zero": false}, "axis": {"orient": "top", "title": "Autocorrelation Lorenz 63 (y)", "values": [0, 0.5, 1, 1.5, 2, 2.5, 3, 3.5, 4], "labels": false, "titlePadding": 17}},
            "y": {"field": "v", "type": "quantitative", "scale": {"domain": [-0.2, 0.5], "nice": false, "zero": false}, "axis": {"orient": "right", "title": null, "values": [-0.2, -0.1, 0, 0.1, 0.2, 0.3, 0.4, 0.5], "labels": false}},
            "color": {"field": "series", "type": "nominal", "scale": {"domain": ["95% errorband", "Truth", "Super model 1", "Super model 2"], "range": ["#b8b8b8", "#ffffff", "#000000", "#000000"]}, "legend": {"title": null, "symbolType": {"expr": "datum.value === '95% errorband' ? 'M-6.45,-1.33H6.45V1.33H-6.45Z' : 'M-6.45,0H6.45'"}, "symbolFillColor": {"expr": "datum.value === '95% errorband' ? '#b8b8b8' : 'transparent'"}, "symbolStrokeWidth": {"expr": "datum.value === '95% errorband' ? 0 : 1.5"}}},
            "strokeDash": {"field": "series", "type": "nominal", "scale": {"domain": ["95% errorband", "Truth", "Super model 1", "Super model 2"], "range": [[1, 0], [4, 2], [1.5, 2.2], [1, 0]]}, "legend": {"title": null}}
          }
        }
      ]
    },
    {
      "width": 507, "height": 328,
      "title": {"text": "(c) z", "orient": "bottom", "anchor": "middle", "font": "Liberation Serif", "fontSize": 26, "fontWeight": "normal", "color": "#000", "offset": 2.5, "dx": -37.5},
      "resolve": {"axis": {"x": "independent", "y": "independent"}},
      "layer": [
        {
          "data": {"name": "p3lines"},
          "transform": [{"filter": "datum.series === 'Truth'"}],
          "mark": {"type": "line", "clip": true, "interpolate": "natural", "strokeWidth": 4},
          "encoding": {
            "x": {"field": "t", "type": "quantitative", "scale": {"domain": [0, 10], "nice": false, "zero": false}, "axis": {"orient": "bottom", "title": "Time", "values": [0, 2, 4, 6, 8, 10], "format": ".1~f", "labelPadding": 20.4, "titlePadding": 12.8, "labelOffset": 2}},
            "y": {"field": "v", "type": "quantitative", "scale": {"domain": [-0.8, 1], "nice": false, "zero": false}, "axis": {"orient": "left", "title": "Autocorrelation", "values": [-0.8, -0.6, -0.4, -0.2, 0, 0.2, 0.4, 0.6, 0.8, 1], "format": ".1~f", "labelExpr": "replace(datum.label, '\u2212', '-')", "labelPadding": 19.3, "titlePadding": 30, "labelOffset": 3}},
            "color": {"field": "series", "type": "nominal", "scale": {"domain": ["Truth", "Super model 1", "Super model 2"], "range": ["#a8a8a8", "#000000", "#222222"]}, "legend": {"title": null, "symbolStrokeWidth": {"expr": "datum.value === 'Truth' ? 4 : 1.3"}}},
            "strokeDash": {"field": "series", "type": "nominal", "scale": {"domain": ["Truth", "Super model 1", "Super model 2"], "range": [[1, 0], [1.5, 2.2], [1, 0]]}, "legend": {"title": null}}
          }
        },
        {
          "data": {"name": "p3lines"},
          "transform": [{"filter": "datum.series === 'Super model 1'"}],
          "mark": {"type": "line", "clip": true, "interpolate": "natural", "strokeWidth": 1.2},
          "encoding": {
            "x": {"field": "t", "type": "quantitative", "scale": {"domain": [0, 10], "nice": false, "zero": false}, "axis": null},
            "y": {"field": "v", "type": "quantitative", "scale": {"domain": [-0.8, 1], "nice": false, "zero": false}, "axis": null},
            "color": {"field": "series", "type": "nominal", "scale": {"domain": ["Truth", "Super model 1", "Super model 2"], "range": ["#a8a8a8", "#000000", "#222222"]}, "legend": {"title": null, "symbolStrokeWidth": {"expr": "datum.value === 'Truth' ? 4 : 1.3"}}},
            "strokeDash": {"field": "series", "type": "nominal", "scale": {"domain": ["Truth", "Super model 1", "Super model 2"], "range": [[1, 0], [1.5, 2.2], [1, 0]]}, "legend": {"title": null}}
          }
        },
        {
          "data": {"name": "p3lines"},
          "transform": [{"filter": "datum.series === 'Super model 2'"}],
          "mark": {"type": "line", "clip": true, "interpolate": "natural", "strokeWidth": 1.5},
          "encoding": {
            "x": {"field": "t", "type": "quantitative", "scale": {"domain": [0, 10], "nice": false, "zero": false}, "axis": {"orient": "top", "title": "Autocorrelation Lorenz 63 (z)", "values": [0, 2, 4, 6, 8, 10], "labels": false, "titlePadding": 17}},
            "y": {"field": "v", "type": "quantitative", "scale": {"domain": [-0.8, 1], "nice": false, "zero": false}, "axis": {"orient": "right", "title": null, "values": [-0.8, -0.6, -0.4, -0.2, 0, 0.2, 0.4, 0.6, 0.8, 1], "labels": false}},
            "color": {"field": "series", "type": "nominal", "scale": {"domain": ["Truth", "Super model 1", "Super model 2"], "range": ["#a8a8a8", "#000000", "#222222"]}, "legend": {"title": null, "symbolStrokeWidth": {"expr": "datum.value === 'Truth' ? 4 : 1.3"}}},
            "strokeDash": {"field": "series", "type": "nominal", "scale": {"domain": ["Truth", "Super model 1", "Super model 2"], "range": [[1, 0], [1.5, 2.2], [1, 0]]}, "legend": {"title": null}}
          }
        }
      ]
    }
  ]
}
